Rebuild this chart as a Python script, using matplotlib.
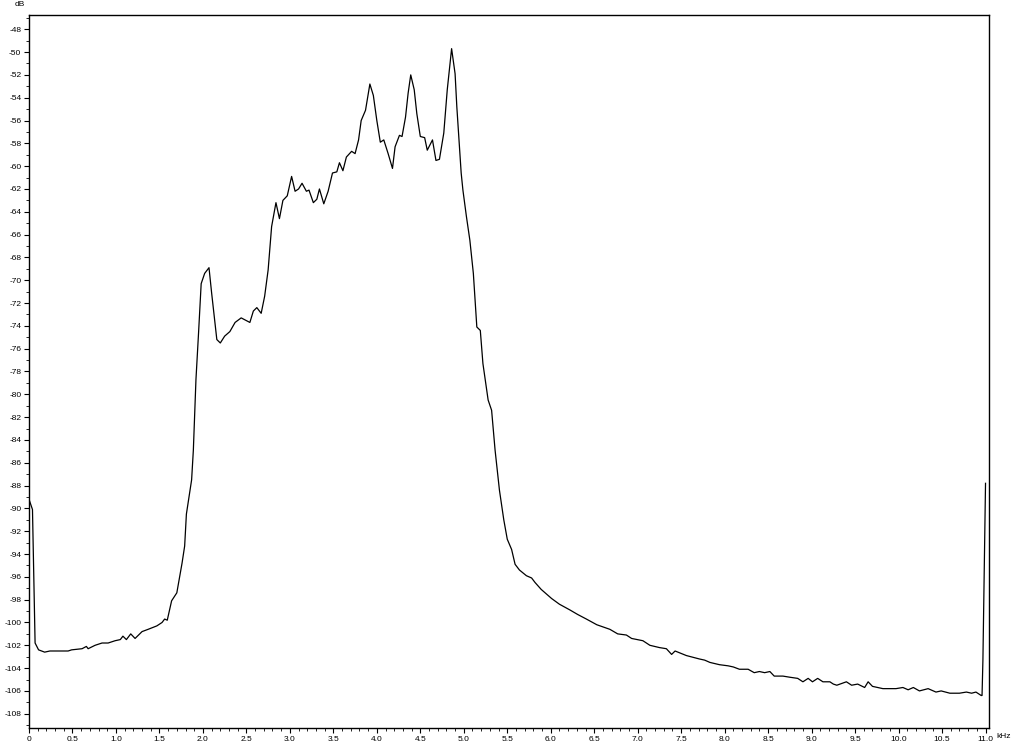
import matplotlib
matplotlib.use("Agg")
import matplotlib.pyplot as plt
from matplotlib.ticker import MultipleLocator, FuncFormatter

# spectrum (kHz, dB)
freq_khz = [
    0.00, 0.04, 0.07, 0.11, 0.18, 0.24, 0.45, 0.49, 0.61, 0.66, 0.68, 0.76,
    0.84, 0.91, 0.99, 1.05, 1.08, 1.12, 1.17, 1.22, 1.30, 1.37, 1.47, 1.53,
    1.56, 1.59, 1.64, 1.70, 1.76, 1.79, 1.81, 1.83, 1.87, 1.89, 1.92, 1.95,
    1.98, 2.02, 2.07, 2.10, 2.16, 2.20, 2.25, 2.31, 2.37, 2.44, 2.54, 2.58,
    2.62, 2.67, 2.71, 2.75, 2.79, 2.84, 2.88, 2.92, 2.97, 3.02, 3.06, 3.10,
    3.14, 3.19, 3.22, 3.27, 3.31, 3.34, 3.39, 3.44, 3.49, 3.54, 3.57, 3.61,
    3.65, 3.71, 3.75, 3.79, 3.82, 3.87, 3.92, 3.96, 4.00, 4.04, 4.08, 4.13,
    4.18, 4.21, 4.26, 4.29, 4.33, 4.36, 4.39, 4.43, 4.46, 4.50, 4.55, 4.58,
    4.64, 4.68, 4.72, 4.77, 4.81, 4.86, 4.90, 4.92, 4.97, 4.99, 5.03, 5.07,
    5.11, 5.15, 5.19, 5.22, 5.28, 5.32, 5.36, 5.41, 5.46, 5.50, 5.55, 5.59,
    5.64, 5.72, 5.78, 5.82, 5.89, 6.01, 6.10, 6.22, 6.31, 6.41, 6.53, 6.68,
    6.77, 6.87, 6.93, 7.06, 7.14, 7.25, 7.33, 7.39, 7.43, 7.56, 7.71, 7.77,
    7.83, 7.94, 8.04, 8.10, 8.17, 8.27, 8.34, 8.40, 8.46, 8.52, 8.57, 8.67,
    8.75, 8.84, 8.90, 8.96, 9.01, 9.07, 9.13, 9.21, 9.25, 9.29, 9.40, 9.46,
    9.53, 9.61, 9.65, 9.70, 9.82, 9.97, 10.05, 10.11, 10.17, 10.24, 10.34,
    10.43, 10.49, 10.59, 10.70, 10.78, 10.84, 10.89, 10.95, 10.96, 10.97,
    11.00,
]
level_db = [
    -89.2, -90.1, -101.8, -102.4, -102.6, -102.5, -102.5, -102.4, -102.3,
    -102.1, -102.3, -102.0, -101.8, -101.8, -101.6, -101.5, -101.2, -101.5,
    -101.0, -101.4, -100.8, -100.6, -100.3, -100.0, -99.7, -99.8, -98.1,
    -97.4, -94.8, -93.3, -90.5, -89.5, -87.5, -84.9, -78.7, -74.6, -70.3,
    -69.4, -68.9, -71.1, -75.2, -75.5, -74.9, -74.5, -73.7, -73.3, -73.7,
    -72.7, -72.4, -72.9, -71.4, -69.1, -65.3, -63.2, -64.6, -63.0, -62.6,
    -60.9, -62.2, -62.0, -61.5, -62.2, -62.1, -63.2, -62.9, -62.0, -63.3,
    -62.2, -60.6, -60.5, -59.7, -60.4, -59.2, -58.7, -58.9, -57.7, -56.0,
    -55.1, -52.8, -53.8, -56.0, -57.9, -57.7, -58.9, -60.2, -58.3, -57.3,
    -57.4, -55.7, -53.6, -52.0, -53.3, -55.4, -57.4, -57.5, -58.6, -57.7,
    -59.5, -59.4, -57.1, -53.3, -49.7, -51.9, -54.8, -60.6, -62.1, -64.4,
    -66.5, -69.4, -74.1, -74.4, -77.3, -80.5, -81.4, -84.9, -88.4, -91.0,
    -92.7, -93.6, -94.9, -95.4, -95.9, -96.1, -96.5, -97.1, -97.9, -98.4,
    -98.9, -99.3, -99.7, -100.2, -100.6, -101.0, -101.1, -101.4, -101.6,
    -102.0, -102.2, -102.3, -102.8, -102.5, -102.9, -103.2, -103.3, -103.5,
    -103.7, -103.8, -103.9, -104.1, -104.1, -104.4, -104.3, -104.4, -104.3,
    -104.7, -104.7, -104.8, -104.9, -105.2, -104.9, -105.2, -104.9, -105.2,
    -105.2, -105.4, -105.5, -105.2, -105.5, -105.4, -105.7, -105.2, -105.6,
    -105.8, -105.8, -105.7, -105.9, -105.7, -106.0, -105.8, -106.1, -106.0,
    -106.2, -106.2, -106.1, -106.2, -106.1, -106.4, -106.4, -103.3, -87.8,
]

plt.rcParams['font.family'] = ['Liberation Sans', 'DejaVu Sans']

fig = plt.figure(figsize=(10.24, 7.45), dpi=100)
ax = fig.add_axes([29 / 1024, 1 - 728 / 745, 960 / 1024, 713 / 745])

ax.plot(freq_khz, level_db, color='black', lw=0.9)

ax.set_xlim(0, 11.04)
ax.set_ylim(-109.25, -46.75)

ax.xaxis.set_major_locator(MultipleLocator(0.5))
ax.xaxis.set_minor_locator(MultipleLocator(0.1))
ax.yaxis.set_major_locator(MultipleLocator(2))
ax.yaxis.set_minor_locator(MultipleLocator(1))
ax.xaxis.set_major_formatter(FuncFormatter(lambda v, p: '0' if abs(v) < 1e-9 else f'{v:.1f}'))
ax.yaxis.set_major_formatter(FuncFormatter(lambda v, p: f'{v:.0f}'))

ax.tick_params(which='major', length=3.5, width=0.8, labelsize=6, pad=2, direction='out')
ax.tick_params(which='minor', length=2, width=0.6, direction='out')
for s in ax.spines.values():
    s.set_linewidth(1.0)

fig.text(20 / 1024, 1 - 5 / 745, 'dB', fontsize=6, ha='center', va='center')
fig.text(996 / 1024, 1 - 737 / 745, 'kHz', fontsize=6, ha='left', va='center')

fig.savefig('out.png', dpi=100)
